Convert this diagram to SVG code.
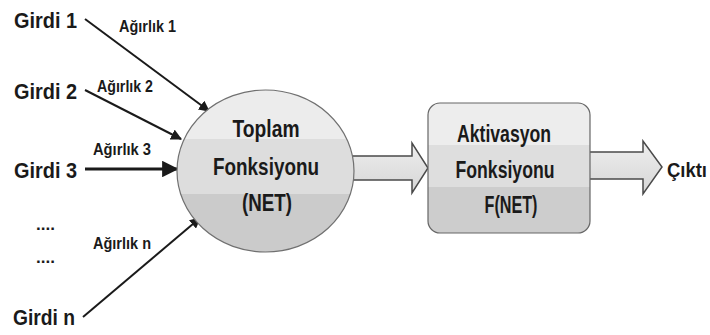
<svg xmlns="http://www.w3.org/2000/svg" width="710" height="335" viewBox="0 0 710 335">
<style>
.lbl{font-family:"Liberation Sans",Arial,sans-serif;font-weight:bold;fill:#1a1a1a}
.in{font-size:22px}
.w{font-size:16px}
.nt{font-size:24px;text-anchor:middle}
.ln{stroke:#1a1a1a;stroke-width:2;fill:none;marker-end:url(#ah)}
.blk{fill:url(#ag);stroke:#4a4a4a;stroke-width:1.5;stroke-linejoin:miter}
</style>
<defs>
<marker id="ah" viewBox="0 0 10 10" refX="9" refY="5" markerWidth="5.5" markerHeight="5.5" orient="auto" markerUnits="strokeWidth">
<path d="M0,0 L10,5 L0,10 z" fill="#1a1a1a"/>
</marker>
<linearGradient id="eg" x1="0" y1="0" x2="0" y2="1">
<stop offset="0" stop-color="#ececec"/><stop offset="0.30" stop-color="#ececec"/>
<stop offset="0.30" stop-color="#dddddd"/><stop offset="0.64" stop-color="#dddddd"/>
<stop offset="0.64" stop-color="#cbcbcb"/><stop offset="1" stop-color="#cbcbcb"/>
</linearGradient>
<linearGradient id="bg" x1="0" y1="0" x2="0" y2="1">
<stop offset="0" stop-color="#ededed"/><stop offset="0.32" stop-color="#ededed"/>
<stop offset="0.32" stop-color="#dedede"/><stop offset="0.65" stop-color="#dedede"/>
<stop offset="0.65" stop-color="#cdcdcd"/><stop offset="1" stop-color="#cdcdcd"/>
</linearGradient>
<linearGradient id="ag" x1="0" y1="0" x2="0" y2="1">
<stop offset="0" stop-color="#eeeeee"/><stop offset="1" stop-color="#d6d6d6"/>
</linearGradient>
</defs>
<rect width="710" height="335" fill="#ffffff"/>

<g id="connectors">
<line class="ln" x1="85" y1="19" x2="209" y2="111"/>
<line class="ln" x1="85" y1="90" x2="181" y2="139"/>
<line class="ln" x1="85" y1="169" x2="177" y2="169" style="stroke-width:3"/>
<line class="ln" x1="83" y1="317" x2="200" y2="218"/>
<path id="arrow-net" class="blk" d="M345,156 L412,156 L412,143 L428,168 L412,193 L412,180 L345,180 z"/>
<path id="arrow-out" class="blk" d="M585,152 L643,152 L643,141 L662,167 L643,194 L643,179 L585,179 z"/>
</g>

<g id="girdi1"><text class="lbl in" x="14" y="28" textLength="63" lengthAdjust="spacingAndGlyphs">Girdi 1</text></g>
<g id="girdi2"><text class="lbl in" x="14" y="99" textLength="63" lengthAdjust="spacingAndGlyphs">Girdi 2</text></g>
<g id="girdi3"><text class="lbl in" x="14" y="178" textLength="63" lengthAdjust="spacingAndGlyphs">Girdi 3</text></g>
<g id="dots">
<text class="lbl" x="36" y="230" style="font-size:17px" textLength="19" lengthAdjust="spacingAndGlyphs">....</text>
<text class="lbl" x="36" y="263" style="font-size:17px" textLength="19" lengthAdjust="spacingAndGlyphs">....</text>
</g>
<g id="girdin"><text class="lbl in" x="13" y="325" textLength="62" lengthAdjust="spacingAndGlyphs">Girdi n</text></g>

<g id="weights">
<text class="lbl w" x="119" y="32" textLength="57" lengthAdjust="spacingAndGlyphs">Ağırlık 1</text>
<text class="lbl w" x="97" y="92" textLength="56" lengthAdjust="spacingAndGlyphs">Ağırlık 2</text>
<text class="lbl w" x="93" y="155" textLength="58" lengthAdjust="spacingAndGlyphs">Ağırlık 3</text>
<text class="lbl w" x="93" y="249" textLength="58" lengthAdjust="spacingAndGlyphs">Ağırlık n</text>
</g>

<g id="toplam">
<ellipse cx="265.5" cy="171" rx="88.5" ry="81" fill="url(#eg)" stroke="#707070" stroke-width="1.2"/>
<text class="lbl nt" x="266" y="137" textLength="67" lengthAdjust="spacingAndGlyphs">Toplam</text>
<text class="lbl nt" x="266" y="175" textLength="106" lengthAdjust="spacingAndGlyphs">Fonksiyonu</text>
<text class="lbl nt" x="267" y="211" textLength="50" lengthAdjust="spacingAndGlyphs">(NET)</text>
</g>

<g id="aktivasyon">
<rect x="428" y="103" width="162" height="130" rx="12" fill="url(#bg)" stroke="#666666" stroke-width="1.2"/>
<text class="lbl nt" x="504" y="142" textLength="94" lengthAdjust="spacingAndGlyphs">Aktivasyon</text>
<text class="lbl nt" x="505" y="178" textLength="99" lengthAdjust="spacingAndGlyphs">Fonksiyonu</text>
<text class="lbl nt" x="511" y="213" textLength="53" lengthAdjust="spacingAndGlyphs">F(NET)</text>
</g>

<g id="cikti"><text class="lbl" x="667" y="177" style="font-size:20px" textLength="40" lengthAdjust="spacingAndGlyphs">Çıktı</text></g>
</svg>
